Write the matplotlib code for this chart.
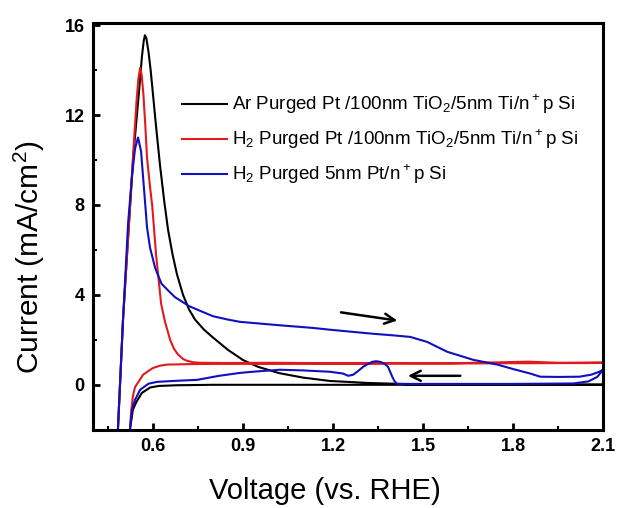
import matplotlib
matplotlib.use("Agg")
import matplotlib.pyplot as plt
from matplotlib.ticker import FixedLocator

plt.rcParams['font.family'] = ['Liberation Sans', 'DejaVu Sans']
plt.rcParams['mathtext.fontset'] = 'custom'
plt.rcParams['mathtext.rm'] = 'Liberation Sans'

# Ar purged Pt/100nm TiO2/5nm Ti/n+p Si (forward scan, then return)
ar_v = [0.483, 0.50, 0.52, 0.535, 0.553, 0.563, 0.569, 0.573, 0.578, 0.585, 0.592,
        0.60, 0.61, 0.623, 0.637, 0.65, 0.665, 0.68, 0.70, 0.72, 0.74, 0.77, 0.80,
        0.85, 0.90, 0.95, 1.02, 1.10, 1.19, 1.32, 1.45, 1.60, 1.80, 2.10,
        2.10, 1.80, 1.40, 1.00, 0.80, 0.68, 0.62, 0.59, 0.563, 0.545, 0.533, 0.523]
ar_i = [-2.0, 2.9, 7.2, 10.3, 13.0, 14.6, 15.3, 15.55, 15.4, 14.8, 14.0,
        12.9, 11.5, 9.8, 8.2, 6.9, 5.8, 4.9, 4.0, 3.35, 2.9, 2.45, 2.1,
        1.55, 1.1, 0.8, 0.52, 0.32, 0.17, 0.08, 0.03, 0.02, 0.01, 0.01,
        0.0, 0.0, 0.0, 0.0, 0.0, -0.02, -0.05, -0.12, -0.36, -0.75, -1.1, -2.0]

# H2 purged Pt/100nm TiO2/5nm Ti/n+p Si
h2_v = [0.483, 0.50, 0.52, 0.533, 0.545, 0.551, 0.557, 0.562, 0.568, 0.574, 0.58,
        0.59, 0.597, 0.603, 0.61, 0.62, 0.627, 0.64, 0.657, 0.67, 0.683, 0.70,
        0.713, 0.735, 0.757, 0.85, 1.0, 1.2, 1.4, 1.6, 1.75, 1.85, 1.95, 2.05, 2.10,
        2.10, 1.80, 1.50, 1.00, 0.80, 0.723, 0.647, 0.623, 0.60, 0.585, 0.567,
        0.555, 0.54, 0.533, 0.527, 0.523]
h2_i = [-2.0, 2.9, 7.2, 10.1, 12.6, 13.6, 14.1, 13.8, 12.9, 11.6, 10.1,
        8.8, 8.0, 7.0, 5.8, 4.5, 3.6, 2.8, 2.0, 1.6, 1.35, 1.15,
        1.07, 1.0, 0.98, 0.97, 0.98, 0.96, 0.97, 0.96, 1.0, 1.03, 0.98, 0.99, 1.0,
        0.97, 0.96, 0.94, 0.93, 0.93, 0.92, 0.9, 0.85, 0.75, 0.62, 0.45,
        0.2, -0.1, -0.5, -1.2, -2.0]

# H2 purged 5nm Pt/n+p Si
pt_v = [0.483, 0.50, 0.517, 0.53, 0.54, 0.55, 0.56, 0.573, 0.58, 0.59, 0.607,
        0.628, 0.65, 0.673, 0.72, 0.773, 0.80, 0.85, 0.89, 1.02, 1.133, 1.19,
        1.333, 1.40, 1.457, 1.513, 1.58, 1.667, 1.747, 1.80, 1.857, 1.89, 1.95,
        2.02, 2.06, 2.09, 2.10,
        2.08, 2.05, 2.00, 1.80, 1.60, 1.413, 1.405, 1.397, 1.383, 1.37, 1.357,
        1.343, 1.33, 1.315, 1.30, 1.28, 1.267, 1.25, 1.233, 1.19, 1.10, 1.023,
        0.95, 0.89, 0.82, 0.747, 0.68, 0.613, 0.585, 0.557, 0.54, 0.53, 0.523]
pt_i = [-2.0, 2.9, 7.2, 9.3, 10.5, 11.0, 10.4, 8.2, 7.0, 6.1, 5.2,
        4.5, 4.2, 3.9, 3.5, 3.2, 3.05, 2.9, 2.8, 2.65, 2.53, 2.45,
        2.27, 2.2, 2.13, 1.91, 1.47, 1.11, 0.9, 0.7, 0.5, 0.36, 0.35,
        0.36, 0.45, 0.6, 0.68,
        0.35, 0.15, 0.06, 0.04, 0.04, 0.04, 0.15, 0.36, 0.8, 0.95, 1.02,
        1.05, 1.02, 0.92, 0.8, 0.58, 0.45, 0.4, 0.5, 0.58, 0.64, 0.67,
        0.6, 0.53, 0.4, 0.22, 0.18, 0.13, 0.05, -0.22, -0.67, -1.1, -2.0]

labels = [r'Ar Purged Pt /100nm TiO$_2$/5nm Ti/n$^+$p Si',
          r'H$_2$ Purged Pt /100nm TiO$_2$/5nm Ti/n$^+$p Si',
          r'H$_2$ Purged 5nm Pt/n$^+$p Si']

fig = plt.figure(figsize=(6.2, 5.08), dpi=100)
ax = fig.add_axes([0.150, 0.154, 0.823, 0.801])

ax.plot(ar_v, ar_i, color='black', lw=1.5, label=labels[0])
ax.plot(h2_v, h2_i, color='#e31a1c', lw=1.5, label=labels[1])
ax.plot(pt_v, pt_i, color='#1010c0', lw=1.5, label=labels[2])

# scan direction arrows
ax.annotate('', xy=(1.423, 2.84), xytext=(1.217, 3.24),
            arrowprops=dict(arrowstyle='->', lw=1.8, color='black', mutation_scale=18))
ax.annotate('', xy=(1.44, 0.4), xytext=(1.633, 0.4),
            arrowprops=dict(arrowstyle='->', lw=1.8, color='black', mutation_scale=18))

ax.set_xlim(0.4, 2.1)
ax.set_ylim(-2, 16.1)
ax.xaxis.set_major_locator(FixedLocator([0.6, 0.9, 1.2, 1.5, 1.8, 2.1]))
ax.xaxis.set_minor_locator(FixedLocator([0.45, 0.75, 1.05, 1.35, 1.65, 1.95]))
ax.yaxis.set_major_locator(FixedLocator([0, 4, 8, 12, 16]))
ax.yaxis.set_minor_locator(FixedLocator([2, 6, 10, 14]))
ax.set_xticklabels(['0.6', '0.9', '1.2', '1.5', '1.8', '2.1'])
ax.set_yticklabels(['0', '4', '8', '12', '16'])

ax.tick_params(which='major', direction='in', length=5, width=2,
               labelsize=13, pad=6)
ax.tick_params(which='minor', direction='in', length=3, width=1.5)
for lab in ax.get_xticklabels() + ax.get_yticklabels():
    lab.set_fontweight('bold')
for sp in ax.spines.values():
    sp.set_linewidth(2.2)

ax.set_xlabel('Voltage (vs. RHE)', fontsize=21)
ax.set_ylabel('Current (mA/cm$^2$)', fontsize=21.5)
ax.xaxis.set_label_coords(0.455, -0.115)
ax.yaxis.set_label_coords(-0.09, 0.423)

ax.legend(loc='upper left', bbox_to_anchor=(0.175, 0.828), frameon=False,
          fontsize=13.5, handlelength=2.4, handletextpad=0.27,
          labelspacing=0.62, borderpad=0, borderaxespad=0)

fig.savefig('out.png', dpi=100)
